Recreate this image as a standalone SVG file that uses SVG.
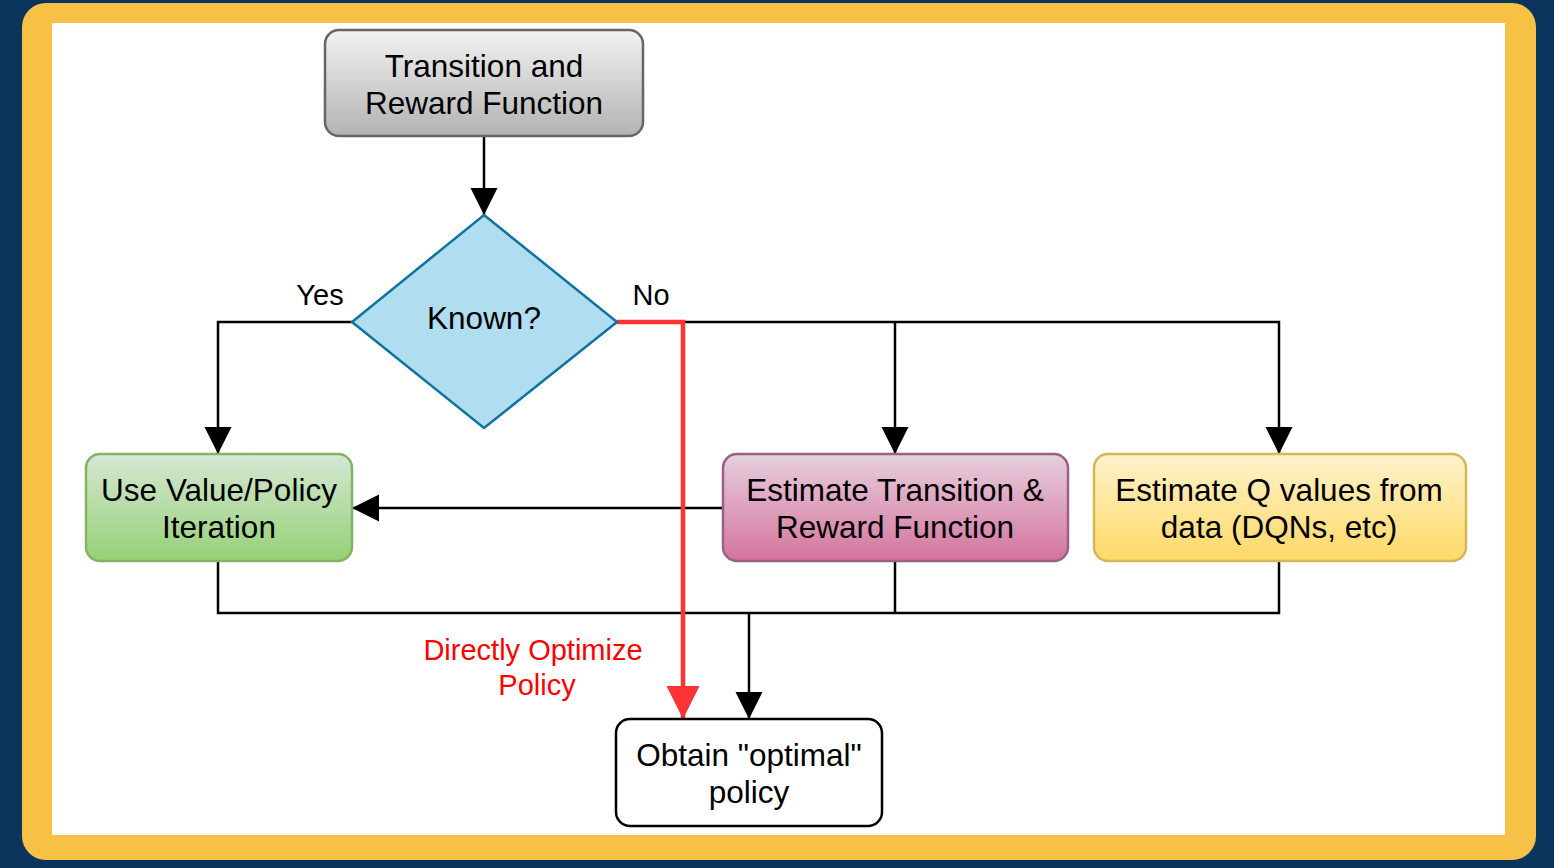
<svg xmlns="http://www.w3.org/2000/svg" width="1554" height="868" viewBox="0 0 1554 868">
<defs>
<linearGradient id="gGray" x1="0" y1="0" x2="0" y2="1"><stop offset="0" stop-color="#f2f2f2"/><stop offset="1" stop-color="#b3b3b3"/></linearGradient>
<linearGradient id="gGreen" x1="0" y1="0" x2="0" y2="1"><stop offset="0" stop-color="#d5e8d4"/><stop offset="1" stop-color="#97d077"/></linearGradient>
<linearGradient id="gPink" x1="0" y1="0" x2="0" y2="1"><stop offset="0" stop-color="#e6d0de"/><stop offset="1" stop-color="#d5739d"/></linearGradient>
<linearGradient id="gYellow" x1="0" y1="0" x2="0" y2="1"><stop offset="0" stop-color="#fff2cc"/><stop offset="1" stop-color="#ffd966"/></linearGradient>
<marker id="arr" viewBox="0 0 10 10" refX="10" refY="5" markerUnits="userSpaceOnUse" markerWidth="27" markerHeight="28" orient="auto"><path d="M0,0 L10,5 L0,10 Z" fill="#000"/></marker>
<marker id="arrRed" viewBox="0 0 10 10" refX="10" refY="5" markerUnits="userSpaceOnUse" markerWidth="33" markerHeight="34" orient="auto"><path d="M0,0 L10,5 L0,10 Z" fill="#ff3333"/></marker>
</defs>
<style>
text{font-family:"Liberation Sans",Arial,sans-serif;font-size:31.5px;fill:#000;text-anchor:middle}
.lbl{font-size:29px}
.red{fill:#ff0000;font-size:29px}
.c{fill:none;stroke:#000;stroke-width:2.5}
.cr{fill:none;stroke:#ff3333;stroke-width:4.5}
</style>
<rect width="1554" height="868" fill="#0b345c"/>
<rect x="22" y="3" width="1514" height="857" rx="24" fill="#f6c145"/>
<rect x="52" y="23" width="1453" height="812" fill="#ffffff"/>

<g id="connectors">
<path class="c" d="M484,136 V215" marker-end="url(#arr)"/>
<path class="c" d="M352,322 H218 V454" marker-end="url(#arr)"/>
<path class="c" d="M617,322 H1279 V454" marker-end="url(#arr)"/>
<path class="c" d="M895,322 V454" marker-end="url(#arr)"/>
<path class="c" d="M723,508 H352" marker-end="url(#arr)"/>
<path class="c" d="M218,561 V613 H1279 V561"/>
<path class="c" d="M895,561 V613"/>
<path class="c" d="M749,613 V719" marker-end="url(#arr)"/>
<path class="cr" d="M617,322 H683 V719" marker-end="url(#arrRed)"/>
</g>

<g id="n-transition">
<rect x="325" y="30" width="318" height="106" rx="14" fill="url(#gGray)" stroke="#666666" stroke-width="2.5"/>
<text x="484" y="77">Transition and</text>
<text x="484" y="114">Reward Function</text>
</g>

<g id="n-known">
<path d="M484,215 L617,322 L484,428 L352,322 Z" fill="#b1ddf0" stroke="#10739e" stroke-width="2.5"/>
<text x="484" y="329">Known?</text>
</g>

<g id="n-value">
<rect x="86" y="454" width="266" height="107" rx="14" fill="url(#gGreen)" stroke="#82b366" stroke-width="2.5"/>
<text x="219" y="501">Use Value/Policy</text>
<text x="219" y="538">Iteration</text>
</g>

<g id="n-estimate">
<rect x="723" y="454" width="345" height="107" rx="14" fill="url(#gPink)" stroke="#996185" stroke-width="2.5"/>
<text x="895" y="501">Estimate Transition &amp;</text>
<text x="895" y="538">Reward Function</text>
</g>

<g id="n-q">
<rect x="1094" y="454" width="372" height="107" rx="14" fill="url(#gYellow)" stroke="#d6b656" stroke-width="2.5"/>
<text x="1279" y="501">Estimate Q values from</text>
<text x="1279" y="538">data (DQNs, etc)</text>
</g>

<g id="n-obtain">
<rect x="616" y="719" width="266" height="107" rx="14" fill="#ffffff" stroke="#000000" stroke-width="2.5"/>
<text x="749" y="766">Obtain "optimal"</text>
<text x="749" y="803">policy</text>
</g>

<g id="labels">
<text class="lbl" x="320" y="305">Yes</text>
<text class="lbl" x="651" y="305">No</text>
<text class="red" x="533" y="660">Directly Optimize</text>
<text class="red" x="537" y="695">Policy</text>
</g>
</svg>
